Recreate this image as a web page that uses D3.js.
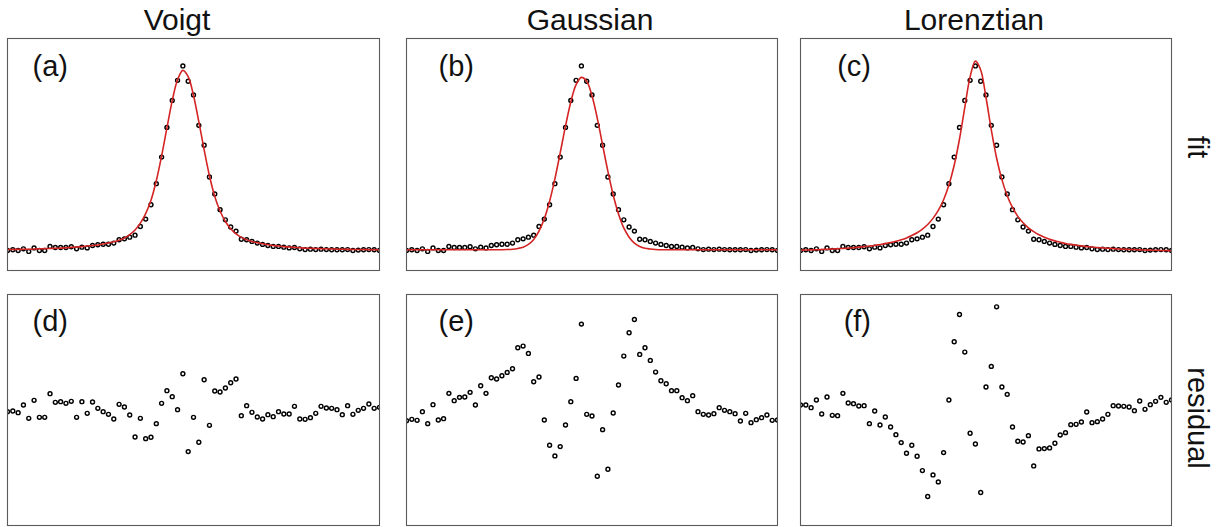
<!DOCTYPE html>
<html><head><meta charset="utf-8">
<script src="https://cdn.jsdelivr.net/npm/d3@7"></script>
<style>body{margin:0;background:#fff}svg{display:block}</style>
</head><body>
<svg id="chart" width="1218" height="527"></svg>
<script>
// ---------- data ----------
const sampleX = [0,1,2,3,4,5,6,7,8,9,10,11,12,13,14,15,16,17,18,19,20,21,22,23,24,25,26,27,28,29,30,31,32,33,34,35,36,37,38,39,40,41,42,43,44,45,46,47,48,49,50,51,52,53,54,55,56,57,58,59,60,61,62,63,64,65,66,67,68,69,70];

const measured = [0, 0.004, 0, 0.009, -0.005, 0.014, 0, 0, 0.022, 0.016,
 0.016, 0.016, 0.020, 0.009, 0.018, 0.014, 0.027, 0.031, 0.034, 0.034,
 0.040, 0.058, 0.063, 0.072, 0.083, 0.130, 0.170, 0.248, 0.362, 0.506,
 0.667, 0.813, 0.922, 1.000, 0.917, 0.843, 0.678, 0.570, 0.398, 0.306,
 0.221, 0.166, 0.127, 0.105, 0.061, 0.058, 0.049, 0.040, 0.033, 0.027,
 0.022, 0.022, 0.018, 0.014, 0.016, 0.009, 0.005, 0.007, 0.005, 0.007,
 0.005, 0.004, 0.004, 0.004, 0.005, 0, 0.002, 0.004, 0.005, 0.004, 0];

const fitVoigt = [0.005, 0.0055, 0.006, 0.0065, 0.007, 0.008, 0.009, 0.010, 0.011, 0.012,
 0.013, 0.015, 0.017, 0.019, 0.021, 0.024, 0.027, 0.030, 0.035, 0.041,
 0.047, 0.056, 0.068, 0.086, 0.111, 0.148, 0.200, 0.272, 0.378, 0.512,
 0.664, 0.812, 0.925, 0.976, 0.942, 0.840, 0.698, 0.546, 0.405, 0.293,
 0.214, 0.157, 0.118, 0.090, 0.071, 0.058, 0.049, 0.042, 0.036, 0.031,
 0.027, 0.024, 0.021, 0.019, 0.017, 0.015, 0.013, 0.012, 0.011, 0.010,
 0.009, 0.008, 0.007, 0.0065, 0.006, 0.0055, 0.005, 0.005, 0.0045, 0.004, 0.004];

const fitGaussian = [0.004,0.004,0.004,0.004,0.004,0.004,0.004,0.004,0.004,0.004,
 0.004,0.004,0.004,0.004,0.004,0.004,0.004,0.004,0.004,0.005,
 0.007,0.011,0.018,0.033,0.060,0.105,0.172,0.267,0.388,0.529,
 0.674,0.805,0.899,0.938,0.917,0.838,0.716,0.572,0.429,0.301,
 0.198,0.122,0.072,0.040,0.022,0.012,0.008,0.0055,0.004,0.004,
 0.004,0.004,0.004,0.004,0.004,0.004,0.004,0.004,0.004,0.004,
 0.004,0.004,0.004,0.004,0.004,0.004,0.004,0.004,0.004,0.004,0.004];

const fitLorentzian = [0.0015,0.0023,0.0032,0.0043,0.0054,0.0066,0.008,0.0095,0.011,0.013,
 0.015,0.018,0.021,0.024,0.027,0.032,0.037,0.043,0.050,0.058,
 0.068,0.081,0.096,0.116,0.141,0.174,0.217,0.275,0.355,0.462,
 0.604,0.776,0.941,1.026,0.978,0.829,0.654,0.501,0.384,0.297,
 0.233,0.185,0.150,0.123,0.102,0.085,0.072,0.061,0.052,0.045,
 0.038,0.033,0.029,0.025,0.021,0.019,0.016,0.014,0.012,0.010,
 0.0084,0.007,0.0057,0.0046,0.0035,0.0026,0.0017,0.0009,0.0002,-0.0004,-0.0011];

const residVoigt = [0, 0.04, -0.06, 0.40, -0.40, 0.68, -0.34, -0.34, 1.08, 0.56,
 0.60, 0.50, 0.62, -0.34, 0.60, -0.10, 0.58, 0.20, 0, -0.16,
 -0.44, 0.44, 0.28, -0.20, -1.52, -0.40, -1.62, -1.54, -0.72, 0.50,
 1.26, 0.90, 0.12, 2.28, -2.40, -0.34, -1.84, 1.92, -0.82, 1.24,
 1.18, 1.42, 1.74, 1.96, -0.24, 0.36, -0.04, -0.32, -0.44, -0.18,
 -0.30, 0, -0.14, -0.14, 0.32, -0.44, -0.46, -0.36, -0.10, 0.32,
 0.22, 0.20, 0.12, -0.18, 0.36, -0.16, 0.08, 0.20, 0.46, 0.20, 0.26];

const residGaussian = [-0.04, 0.04, -0.02, 0.50, -0.22, 0.92, 0, 0.08, 1.60, 1.16,
 1.36, 1.38, 1.66, 0.90, 2.06, 1.60, 2.54, 2.46, 2.66, 2.86,
 3.08, 4.34, 4.44, 4.00, 2.30, 2.58, 0, -1.52, -2.16, -1.60,
 -0.30, 1.10, 2.50, 5.76, 0.34, 0.24, -3.38, -0.58, -2.96, 0.42,
 2.10, 3.84, 5.24, 6.04, 3.94, 4.34, 3.58, 2.88, 2.36, 2.18,
 1.76, 1.76, 1.34, 1.16, 1.46, 0.50, 0.34, 0.30, 0.38, 0.74,
 0.58, 0.50, 0.38, -0.06, 0.40, -0.16, 0.02, 0.14, 0.30, -0.02, 0];

const residLorentzian = [0, 0, -0.16, 0.30, -0.54, 0.48, -0.62, -0.64, 0.70, 0.12,
 0.08, -0.06, -0.04, -1.12, -0.36, -1.20, -0.72, -1.32, -1.78, -2.26,
 -2.90, -2.42, -3.08, -3.94, -5.50, -4.20, -4.62, -2.86, 0.30, 3.80,
 5.44, 3.18, -1.70, -2.34, -5.26, 1.08, 2.32, 5.90, 1.08, 0.64,
 -1.32, -2.18, -2.22, -1.84, -3.66, -2.64, -2.62, -2.58, -2.30, -1.80,
 -1.66, -1.18, -1.16, -1.02, -0.42, -1.06, -1.00, -0.84, -0.56, -0.04,
 -0.06, -0.08, -0.12, -0.34, 0.24, -0.26, 0.02, 0.22, 0.46, 0.16, 0.30];

const columnTitles = ["Voigt", "Gaussian", "Lorenztian"];
const panelTags = [["(a)", "(b)", "(c)"], ["(d)", "(e)", "(f)"]];
const rowLabels = ["fit", "residual"];
const xDomain = [0, 70];
const fitDomain = [-0.1085, 1.1487];
const residDomains = [[-6.84, 7.04], [-6.34, 7.54], [-7.24, 6.64]];

// ---------- layout ----------
const cols = [{x0: 7.5, x1: 379.5, title: 177, tag: 68},
              {x0: 406.5, x1: 777.5, title: 590, tag: 474},
              {x0: 800.5, x1: 1171.5, title: 974, tag: 871}];
const rows = [{y0: 38.5, y1: 270.5, tagY: 76, labelY: 147},
              {y0: 294.5, y1: 525.5, tagY: 331, labelY: 418}];
const FONT = "Arial, 'Liberation Sans', Helvetica, sans-serif";
const RED = "#d42424";

const svg = d3.select("#chart");
const defs = svg.append("defs");

const fits = [fitVoigt, fitGaussian, fitLorentzian];
const resids = [residVoigt, residGaussian, residLorentzian];

// titles
cols.forEach((c, j) => {
  svg.append("text").attr("x", c.title).attr("y", 30)
    .attr("text-anchor", "middle").attr("font-family", FONT)
    .attr("font-size", 30).attr("fill", "#111").text(columnTitles[j]);
});

// row labels (rotated)
rows.forEach((r, k) => {
  svg.append("text")
    .attr("transform", `translate(1188,${r.labelY}) rotate(90)`)
    .attr("text-anchor", "middle").attr("font-family", FONT)
    .attr("font-size", 29).attr("fill", "#111").text(rowLabels[k]);
});

function panel(rowIdx, colIdx) {
  const c = cols[colIdx], r = rows[rowIdx];
  const id = `clip-${rowIdx}-${colIdx}`;
  defs.append("clipPath").attr("id", id).append("rect")
    .attr("x", c.x0).attr("y", r.y0).attr("width", c.x1 - c.x0).attr("height", r.y1 - r.y0);
  const x = d3.scaleLinear().domain(xDomain).range([c.x0, c.x1]);
  const yDom = rowIdx === 0 ? fitDomain : residDomains[colIdx];
  const y = d3.scaleLinear().domain(yDom).range([r.y1, r.y0]);
  const g = svg.append("g");
  const body = g.append("g").attr("clip-path", `url(#${id})`);
  const values = rowIdx === 0 ? measured : resids[colIdx];
  body.selectAll("circle").data(sampleX).enter().append("circle")
    .attr("cx", i => x(i)).attr("cy", (i, k) => y(values[k]))
    .attr("r", 1.95).attr("fill", "none").attr("stroke", "#000").attr("stroke-width", 1.45);
  if (rowIdx === 0) {
    const fit = fits[colIdx];
    const line = d3.line().x((d, k) => x(sampleX[k])).y(d => y(d)).curve(d3.curveCatmullRom.alpha(0.5));
    body.append("path").datum(fit).attr("d", line)
      .attr("fill", "none").attr("stroke", RED).attr("stroke-width", 1.6);
  }
  g.append("rect").attr("x", c.x0).attr("y", r.y0)
    .attr("width", c.x1 - c.x0).attr("height", r.y1 - r.y0)
    .attr("fill", "none").attr("stroke", "#5a5a5a").attr("stroke-width", 1.1);
  g.append("text").attr("x", c.tag).attr("y", r.tagY)
    .attr("text-anchor", "end").attr("font-family", FONT)
    .attr("font-size", 29).attr("fill", "#111").text(panelTags[rowIdx][colIdx]);
}

for (let r = 0; r < 2; r++) for (let c = 0; c < 3; c++) panel(r, c);
</script>
</body></html>
